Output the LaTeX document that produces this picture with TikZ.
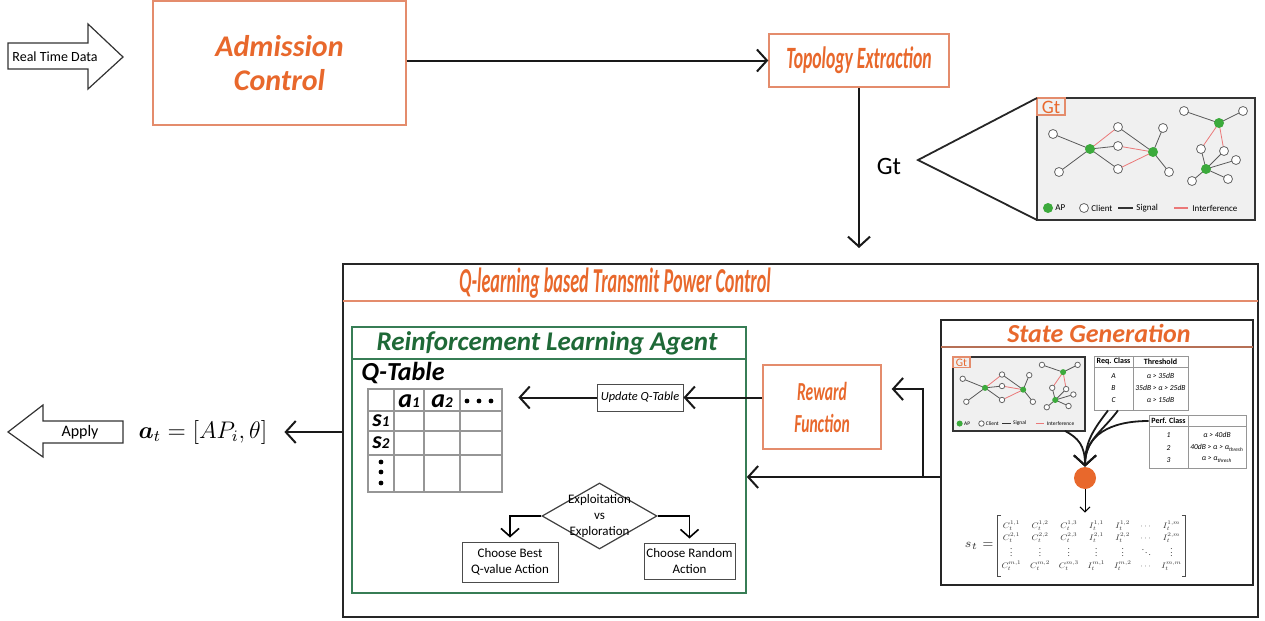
\documentclass[tikz,border=0pt]{standalone}
\usepackage[no-math]{fontspec}
\setmainfont{Carlito}
\usepackage{amsmath}
\usepackage{graphicx}
\usetikzlibrary{arrows.meta,calc,fit,shapes.geometric}
\definecolor{orT}{RGB}{232,104,44}
\definecolor{orB}{RGB}{228,140,108}
\definecolor{grT}{RGB}{30,105,55}
\definecolor{grB}{RGB}{55,125,85}
\definecolor{apg}{RGB}{60,170,60}
\definecolor{intfc}{RGB}{235,120,120}
\definecolor{tgray}{RGB}{150,150,150}
\newcommand{\cond}[2][0.56]{\scalebox{#1}[1]{#2}}
\newcommand{\gtgraph}[1]{%
  \draw[gtframe] (0,0) rectangle (218,122);
  \coordinate (#1nw) at (0,0);
  \coordinate (#1sw) at (0,122);
  \coordinate (#1out) at (185,122);
  \draw[draw=orB, line width=0.6pt] (0,0) rectangle (28,17);
  \node[text=orT, font=\fontsize{9.5}{10}\selectfont, inner sep=0] at (14,9) {Gt};
  \foreach \n/\x/\y in {A1/53/51, A2/116/54, A3/182/25, A4/169/71,
     c1/16/36, c2/22/74, c3/81/29, c4/81/48, c5/81/71, c6/126/30, c7/132/74,
     c8/147/13, c9/206/13, c10/164/51, c11/187/53, c12/199/62, c13/191/81, c14/155/83}
     \coordinate (#1\n) at (\x,\y);
  \foreach \a/\b in {A1/c1, A1/c2, A1/c4, A1/c5, c3/A2, A2/c6, A2/c7,
     A3/c8, A3/c9, A4/c10, A4/c11, A4/c12, A4/c13, A4/c14}
     \draw[sig] (#1\a) -- (#1\b);
  \foreach \a/\b in {A1/c3, c4/A2, c5/A2, A3/c10, A3/c11}
     \draw[intf] (#1\a) -- (#1\b);
  \foreach \n in {A1,A2,A3,A4} \node[ap] at (#1\n) {};
  \foreach \n in {c1,c2,c3,c4,c5,c6,c7,c8,c9,c10,c11,c12,c13,c14} \node[cl] at (#1\n) {};
  \node[ap] at (11,110) {};
  \node[lg] at (17,110) {AP};
  \node[cl] at (47,110) {};
  \node[lg] at (53,110) {Client};
  \draw[black!80, line width=0.6pt] (81,110) -- (96,110);
  \node[lg] at (98,110) {Signal};
  \draw[intfc, line width=0.6pt] (137,110) -- (151,110);
  \node[lg] at (154,110) {Interference};
}
\begin{document}
\begin{tikzpicture}[x=0.5pt,y=-0.5pt,
  >={Straight Barb[length=5pt,width=11pt]},
  obox/.style={draw=orB, line width=0.7pt, fill=white, inner sep=0},
  conn/.style={->, line width=1pt, draw=black!90},
  thinbox/.style={draw=black!70, line width=0.5pt, inner sep=0, align=center},
  smalltxt/.style={font=\fontsize{6.5}{7.8}\selectfont},
  ap/.style={circle, fill=apg, minimum size=5pt, inner sep=0},
  cl/.style={circle, draw=black!60, fill=white, line width=0.4pt, minimum size=4.5pt, inner sep=0},
  sig/.style={draw=black!65, line width=0.4pt},
  intf/.style={draw=intfc, line width=0.4pt},
  lg/.style={font=\fontsize{4.5}{5}\selectfont, inner sep=0.5pt, anchor=west},
  gtframe/.style={draw=black!80, line width=1pt, fill=black!6},
  tcell/.style={font=\fontsize{3.8}{4.5}\selectfont\itshape, inner sep=0},
  thead/.style={font=\fontsize{4}{5}\selectfont\bfseries, inner sep=0},
  qh/.style={font=\bfseries\itshape, inner sep=0},
  tbl/.style={draw=tgray, line width=0.4pt, fill=white, inner sep=0},
  curv/.style={->, line width=0.9pt, draw=black!90},
  brk/.style={draw=black!70, line width=0.45pt},
]
\useasboundingbox (0,0) rectangle (1265,621);

% ---------- top row ----------
\draw[black!80, line width=0.6pt, fill=white] (8,43) -- (88,43) -- (88,24) -- (123,57) -- (88,89) -- (88,69) -- (8,69) -- cycle;
\node[font=\fontsize{7}{8}\selectfont] (rtd) at (55,57) {Real Time Data};

\node[obox, minimum width=126.5pt, minimum height=62pt, align=center, text=orT,
  font=\fontsize{15}{17}\selectfont\bfseries\itshape] (adm) at (279.5,63) {Admission\\Control};

\node[obox, minimum width=90pt, minimum height=26.5pt, text=orT,
  font=\fontsize{15.5}{17}\selectfont\bfseries\itshape] (topo) at (859,60.5) {\cond[0.57]{Topology Extraction}};

\draw[conn] (adm.east |- topo.west) -- (topo.west);

% ---------- Gt graph ----------
\begin{scope}[shift={(1037,98)}]
  \gtgraph{g}
\end{scope}
\coordinate (ctip) at (918,160);
\draw[line width=0.9pt, black!85] (gnw) -- (ctip) -- (gsw);
\node[font=\fontsize{12.5}{14}\selectfont] (gtl) at (889,166) {Gt};

% ---------- Q-learning box ----------
\node[draw=black!85, line width=1pt, minimum width=457.5pt, minimum height=176.5pt, inner sep=0] (ql) at (800.5,440.5) {};
\draw[orB, line width=0.8pt] (343,301) -- (1258,301);
\node[text=orT, font=\fontsize{17.5}{19}\selectfont\bfseries\itshape] (qlt) at (615,283) {\cond[0.52]{Q-learning based Transmit Power Control}};

\draw[conn, shorten >=7.5pt] (topo.south) -- (topo.south |- ql.north);

% ---------- RL agent ----------
\node[draw=grB, line width=0.8pt, minimum width=197pt, minimum height=133pt, inner sep=0, fill=white] (rl) at (549,460) {};
\draw[grB, line width=0.8pt] (352,359) -- (746,359);
\node[text=grT, font=\fontsize{13.5}{15}\selectfont\bfseries\itshape] (rlt) at (547,343) {Reinforcement Learning Agent};

\node[font=\fontsize{13}{15}\selectfont\bfseries\itshape, inner sep=1pt] (qtl) at (403,373) {Q-Table};
\node[fit={(368,389) (502,492)}, inner sep=0] (qtab) {};
\draw[tgray, line width=0.6pt] (368,389) rectangle (502,492);
\draw[tgray, line width=0.6pt] (394,389) -- (394,492) (424,389) -- (424,492) (460,389) -- (460,492)
  (368,411) -- (502,411) (368,431) -- (502,431) (368,455) -- (502,455);
\node[qh] at (409,401) {{\fontsize{13}{13}\selectfont a}{\fontsize{7.5}{8}\selectfont 1}};
\node[qh] at (442,401) {{\fontsize{13}{13}\selectfont a}{\fontsize{7.5}{8}\selectfont 2}};
\node[qh] at (381,421) {{\fontsize{12}{12}\selectfont s}{\fontsize{7.5}{8}\selectfont 1}};
\node[qh] at (381,443) {{\fontsize{12}{12}\selectfont s}{\fontsize{7.5}{8}\selectfont 2}};
\foreach \x in {467,479,491} \fill (\x,401) circle[radius=1.2pt];
\foreach \y in {462,472,483} \fill (381,\y) circle[radius=1.2pt];

\node[thinbox, minimum width=43pt, minimum height=13.5pt, font=\fontsize{6.2}{7}\selectfont\itshape] (upd) at (640,397.5) {Update Q-Table};
\draw[conn, shorten >=8pt] (upd.west) -- (upd.west -| qtab.east);

\node[diamond, draw=black!75, line width=0.6pt, minimum width=57.5pt, minimum height=33pt, inner sep=0] (dia) at (599.5,516) {};
\node[smalltxt, align=center, inner sep=0] (diat) at (dia.center) {Exploitation\\vs\\Exploration};
\node[thinbox, minimum width=48pt, minimum height=20pt, smalltxt] (best) at (510,562) {Choose Best\\Q-value Action};
\node[thinbox, minimum width=45.5pt, minimum height=18pt, smalltxt] (rand) at (689.5,561) {Choose Random\\Action};
\begin{scope}[>={Straight Barb[length=4pt,width=9pt]}]
\draw[->, line width=0.8pt, shorten >=2pt] (dia.west) -| (best.north);
\draw[->, line width=0.8pt, shorten >=2pt] (dia.east) -| (rand.north);
\end{scope}

% ---------- Reward ----------
\node[obox, minimum width=59pt, minimum height=42pt, text=orT, align=center,
  font=\fontsize{13}{16}\selectfont\bfseries\itshape] (rew) at (822,407) {\cond[0.6]{Reward}\\\cond[0.6]{Function}};
\draw[conn] (rew.west |- upd.east) -- (upd.east);

% ---------- State generation ----------
\node[draw=black!85, line width=1pt, minimum width=156pt, minimum height=132.5pt, inner sep=0, fill=white] (sg) at (1097,452.5) {};
\draw[orB!80!black, line width=0.7pt] (941,347) -- (1253,347);
\node[text=orT, font=\fontsize{13}{15}\selectfont\bfseries\itshape] (sgt) at (1099,333) {State Generation};

\begin{scope}[shift={(953,357)}, scale=0.605, transform shape]
  \gtgraph{h}
\end{scope}

\node[tbl, minimum width=47pt, minimum height=27pt] (req) at (1141,383) {};
\draw[tgray, line width=0.4pt] (1094,367) -- (1188,367) (1133,356) -- (1133,410);
\node[thead] at (1113.5,361.5) {Req. Class};
\node[thead] at (1160.5,361.5) {Threshold};
\node[tcell] at (1113.5,376) {A};
\node[tcell] at (1160.5,376) {α > 35dB};
\node[tcell] at (1113.5,388) {B};
\node[tcell] at (1160.5,388) {35dB > α > 25dB};
\node[tcell] at (1113.5,400) {C};
\node[tcell] at (1160.5,400) {α > 15dB};

\node[tbl, minimum width=48.5pt, minimum height=26.5pt] (perf) at (1197.5,441.5) {};
\draw[tgray, line width=0.4pt] (1149,426) -- (1246,426) (1188,415) -- (1188,468);
\node[thead] at (1168.5,420.5) {Perf. Class};
\node[tcell] at (1168.5,435) {1};
\node[tcell] at (1217,435) {α > 40dB};
\node[tcell] at (1168.5,448) {2};
\node[tcell] at (1217,448) {40dB > α > α\textsubscript{thresh}};
\node[tcell] at (1168.5,460) {3};
\node[tcell] at (1217,460) {α > α\textsubscript{thresh}};

\node[circle, fill=orT, minimum size=11pt, inner sep=0] (dot) at (1085,478) {};
\draw[curv] (hout) .. controls (1078,438) and (1085,445) .. (dot.north);
\draw[curv] (req.south -| 1108,0) .. controls (1095,428) and (1085,440) .. (dot.north);
\draw[curv] (req.south -| 1118,0) .. controls (1102,432) and (1085,440) .. (dot.north);
\draw[curv] (perf.west |- 0,421) .. controls (1110,421) and (1085,435) .. (dot.north);

% state matrix, brackets drawn as lines
\node[inner sep=2pt, text=black!80, minimum height=29pt] (mat) at (1091.5,546) {\renewcommand{\arraystretch}{1.25}\setlength{\arraycolsep}{5pt}\resizebox*{90pt}{26pt}{$\begin{matrix}
C_t^{1,1} & C_t^{1,2} & C_t^{1,3} & I_t^{1,1} & I_t^{1,2} & \cdots & I_t^{1,m}\\
C_t^{2,1} & C_t^{2,2} & C_t^{2,3} & I_t^{2,1} & I_t^{2,2} & \cdots & I_t^{2,m}\\
\vdots & \vdots & \vdots & \vdots & \vdots & \ddots & \vdots\\
C_t^{m,1} & C_t^{m,2} & C_t^{m,3} & I_t^{m,1} & I_t^{m,2} & \cdots & I_t^{m,m}
\end{matrix}$}};
\draw[brk] ([xshift=2pt]mat.north west) -- (mat.north west) -- (mat.south west) -- ([xshift=2pt]mat.south west);
\draw[brk] ([xshift=-2pt]mat.north east) -- (mat.north east) -- (mat.south east) -- ([xshift=-2pt]mat.south east);
\node[anchor=east, inner sep=1.5pt, text=black!80, font=\fontsize{6}{7}\selectfont] (st) at (mat.west) {$s_t=$};
\draw[->, line width=0.5pt, >={Straight Barb[length=2.5pt,width=5pt]}, shorten >=1.5pt] (dot.south) -- (dot.south |- mat.north);

% ---------- feedback connectors ----------
\coordinate (j) at (923,477);
\coordinate (rin) at (0,389);
\draw[conn] (sg.west |- j) -- (rl.east |- j);
\draw[conn, shorten >=5pt] (j) |- (rew.east |- rin);

% ---------- output ----------
\node[font=\fontsize{11.5}{14}\selectfont] (at) at (203,432) {$\boldsymbol{a}_t = [AP_i, \theta]$};
\draw[conn, shorten >=5pt] (ql.west |- at.east) -- (at.east);
\draw[black!80, line width=0.6pt, fill=white] (8,432) -- (43,405) -- (43,421) -- (123,421) -- (123,443) -- (43,443) -- (43,457) -- cycle;
\node[font=\fontsize{8}{9}\selectfont] (apply) at (80,432) {Apply};
\end{tikzpicture}
\end{document}
